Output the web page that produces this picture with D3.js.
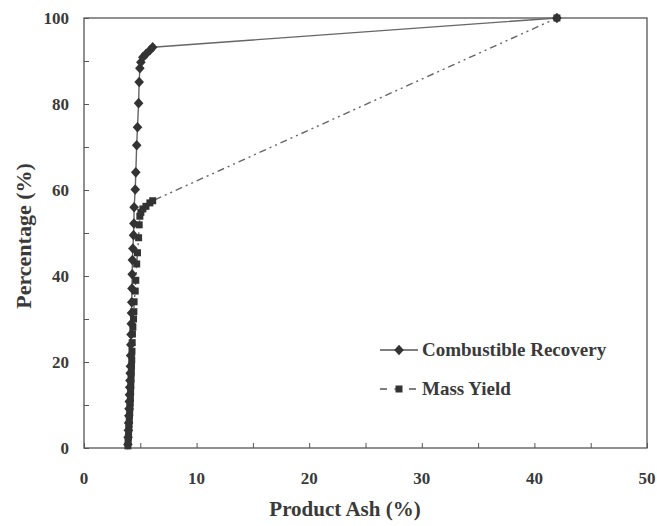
<!DOCTYPE html>
<html>
<head>
<meta charset="utf-8">
<script src="https://cdn.jsdelivr.net/npm/d3@7"></script>
<style>
  body { margin: 0; background: #fff; }
  text { font-family: "Liberation Serif", "Times New Roman", serif; font-weight: bold; fill: #3a3a3a; }
</style>
</head>
<body>
<svg class="chart"></svg>
<script>
// product ash (%) for each cut
var ash = [3.90, 3.92, 3.94, 3.96, 3.98, 4.00, 4.02, 4.04, 4.06, 4.08,
           4.10, 4.12, 4.14, 4.16, 4.18, 4.20, 4.22, 4.24, 4.26, 4.28,
           4.30, 4.34, 4.40, 4.43, 4.45, 4.55, 4.60, 4.68, 4.75, 4.85,
           4.90, 4.96, 5.05, 5.23, 5.50, 5.85, 6.10, 42.0];

var recovery = [0.8, 2.5, 4.1, 5.8, 7.5, 9.1, 10.8, 12.4, 14.1, 15.7,
                17.4, 19.0, 21.5, 24.0, 26.4, 28.9, 31.4, 33.9, 37.1, 40.4,
                43.7, 46.4, 49.5, 52.2, 56.0, 60.1, 64.1, 70.4, 74.6, 80.2,
                85.1, 88.3, 89.7, 90.9, 91.6, 92.5, 93.2, 100];

var massYield = [0.5, 1.5, 2.5, 3.5, 4.5, 5.5, 6.5, 7.5, 8.5, 9.5,
                 10.5, 11.5, 13.0, 14.5, 16.0, 17.5, 19.0, 20.5, 22.5, 24.5,
                 26.5, 28.1, 30.0, 31.7, 34.0, 36.5, 39.0, 42.8, 45.4, 48.9,
                 51.9, 53.9, 54.8, 55.6, 56.2, 57.0, 57.5, 100];

var xTicks = [0, 10, 20, 30, 40, 50];
var yTicks = [0, 20, 40, 60, 80, 100];
var seriesNames = ["Combustible Recovery", "Mass Yield"];

var margin = {top: 18, right: 10, bottom: 78, left: 84};

var x = d3.scaleLinear().domain([0, 50]).range([0, 563]);
var y = d3.scaleLinear().domain([0, 100]).range([430, 0]);

var chart = d3.select('.chart')
  .attr('width', 657)
  .attr('height', 526);

var main = chart.append('g')
  .attr('transform', 'translate(' + margin.left + ',' + margin.top + ')');

// frame
main.append('rect')
  .attr('x', 0).attr('y', 0)
  .attr('width', x(50)).attr('height', y(0))
  .attr('fill', 'none')
  .attr('stroke', '#555')
  .attr('stroke-width', 1.3);

// inward ticks
var xAxis = d3.axisTop(x).tickValues(d3.range(0, 51, 5)).tickSize(5).tickFormat('');
main.append('g')
  .attr('transform', 'translate(0,' + y(0) + ')')
  .call(xAxis)
  .call(function(g) { g.select('.domain').remove(); g.selectAll('line').attr('stroke', '#555'); });

var yAxis = d3.axisRight(y).tickValues(d3.range(0, 101, 10)).tickSize(5).tickFormat('');
main.append('g')
  .call(yAxis)
  .call(function(g) { g.select('.domain').remove(); g.selectAll('line').attr('stroke', '#555'); });

// tick labels
main.append('g').selectAll('text')
  .data(xTicks)
  .enter().append('text')
  .attr('x', function(d) { return x(d); })
  .attr('y', y(0) + 36)
  .style('text-anchor', 'middle')
  .style('font-size', '17px')
  .text(function(d) { return d; });

main.append('g').selectAll('text')
  .data(yTicks)
  .enter().append('text')
  .attr('x', -15)
  .attr('y', function(d) { return y(d) + 5.5; })
  .style('text-anchor', 'end')
  .style('font-size', '17px')
  .text(function(d) { return d; });

// axis titles
main.append('text')
  .attr('x', 261)
  .attr('y', y(0) + 68)
  .style('text-anchor', 'middle')
  .style('font-size', '21px')
  .text('Product Ash (%)');

main.append('text')
  .attr('transform', 'rotate(-90)')
  .attr('x', -218)
  .attr('y', -53)
  .style('text-anchor', 'middle')
  .style('font-size', '22px')
  .text('Percentage (%)');

function diamond(cx, cy, r) {
  return 'M' + cx + ',' + (cy - r * 1.1) + 'L' + (cx + r) + ',' + cy +
         'L' + cx + ',' + (cy + r * 1.1) + 'L' + (cx - r) + ',' + cy + 'Z';
}

var crPts = ash.map(function(a, i) { return [a, recovery[i]]; });
var myPts = ash.map(function(a, i) { return [a, massYield[i]]; });

var line = d3.line()
  .x(function(d) { return x(d[0]); })
  .y(function(d) { return y(d[1]); });

main.append('path')
  .datum(myPts)
  .attr('d', line)
  .attr('fill', 'none')
  .attr('stroke', '#666')
  .attr('stroke-width', 1.4)
  .attr('stroke-dasharray', '7,4,2,4,2,4');

main.append('path')
  .datum(crPts)
  .attr('d', line)
  .attr('fill', 'none')
  .attr('stroke', '#666')
  .attr('stroke-width', 1.4);

main.append('g').selectAll('rect')
  .data(myPts)
  .enter().append('rect')
  .attr('x', function(d) { return x(d[0]) - 3.5; })
  .attr('y', function(d) { return y(d[1]) - 3.5; })
  .attr('width', 7)
  .attr('height', 7)
  .attr('fill', '#333');

main.append('g').selectAll('path')
  .data(crPts)
  .enter().append('path')
  .attr('d', function(d) { return diamond(x(d[0]), y(d[1]), 4.8); })
  .attr('fill', '#333');

// legend
var legend = main.append('g').attr('transform', 'translate(296,332)');

legend.append('line')
  .attr('x1', 0).attr('x2', 38).attr('y1', 0).attr('y2', 0)
  .attr('stroke', '#555').attr('stroke-width', 1.4);
legend.append('path')
  .attr('d', diamond(19, 0, 4.8))
  .attr('fill', '#333');
legend.append('text')
  .attr('x', 42).attr('y', 6)
  .style('font-size', '19px')
  .text(seriesNames[0]);

legend.append('line')
  .attr('x1', 0).attr('x2', 38).attr('y1', 39).attr('y2', 39)
  .attr('stroke', '#555').attr('stroke-width', 1.4)
  .attr('stroke-dasharray', '7,7.5');
legend.append('rect')
  .attr('x', 15.5).attr('y', 35.5).attr('width', 7).attr('height', 7)
  .attr('fill', '#333');
legend.append('text')
  .attr('x', 42).attr('y', 45)
  .style('font-size', '19px')
  .text(seriesNames[1]);
</script>
</body>
</html>
